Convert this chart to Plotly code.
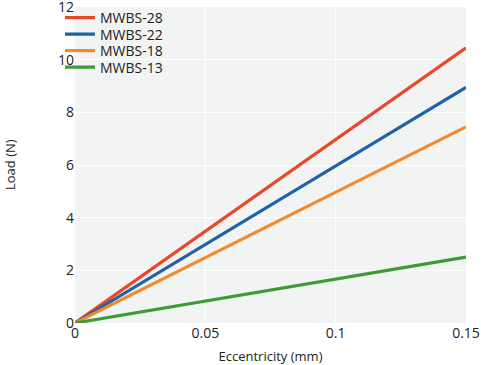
import plotly.graph_objects as go

x_vals = [0, 0.15]
series_names = ["MWBS-28", "MWBS-22", "MWBS-18", "MWBS-13"]
mwbs28 = [0, 10.45]
mwbs22 = [0, 8.95]
mwbs18 = [0, 7.45]
mwbs13 = [0, 2.5]
colors = ["#e8472a", "#1f62a6", "#f0892f", "#3e9a35"]

x_ticks = [0, 0.05, 0.1, 0.15]
x_tick_text = ["0", "0.05", "0.1", "0.15"]
y_ticks = [0, 2, 4, 6, 8, 10, 12]
x_title = "Eccentricity (mm)"
y_title = "Load (N)"

W, H = 481, 365
ML, MR, MT, MB = 75, 15, 7, 42
legend_rows_px = [18, 34.5, 51, 67.5]

fig = go.Figure()
legend_ids = ["legend", "legend2", "legend3", "legend4"]
for name, ys, c, lid in zip(series_names, [mwbs28, mwbs22, mwbs18, mwbs13], colors, legend_ids):
    fig.add_trace(go.Scatter(x=x_vals, y=ys, mode="lines", name=name,
                             line=dict(color=c, width=3.2), legend=lid))

font_family = "Open Sans, Noto Sans, sans-serif"
layout_legends = {}
for lid, row in zip(legend_ids, legend_rows_px):
    layout_legends[lid] = dict(
        xref="container", yref="container",
        x=60 / W, y=1 - row / H, xanchor="left", yanchor="middle",
        bgcolor="rgba(0,0,0,0)", font=dict(size=14, color="#222222"),
        itemwidth=30,
    )

fig.update_layout(
    width=W, height=H,
    margin=dict(l=ML, r=MR, t=MT, b=MB, autoexpand=False),
    paper_bgcolor="white",
    plot_bgcolor="#f2f3f3",
    font=dict(family=font_family, size=14, color="#222222"),
    showlegend=True,
    xaxis=dict(range=[0, 0.15], tickvals=x_ticks, ticktext=x_tick_text,
               showgrid=True, gridcolor="white", gridwidth=1.2,
               zeroline=False, showline=False, ticks="", automargin=False,
               ticklabeloverflow="allow",
               title=dict(text=x_title, font=dict(size=13))),
    yaxis=dict(range=[0, 12], tickvals=y_ticks,
               showgrid=True, gridcolor="white", gridwidth=1.2,
               zeroline=False, showline=False, ticks="", automargin=False,
               ticklabeloverflow="allow"),
    annotations=[dict(text=y_title, textangle=-90, xref="paper", yref="paper",
                      x=(10 - ML) / (W - ML - MR), y=0.5,
                      xanchor="center", yanchor="middle", showarrow=False,
                      font=dict(size=13, color="#222222"))],
    **layout_legends,
)

fig.write_html("out.html", config={"displayModeBar": False},
               post_script="document.body.style.margin='0';")
